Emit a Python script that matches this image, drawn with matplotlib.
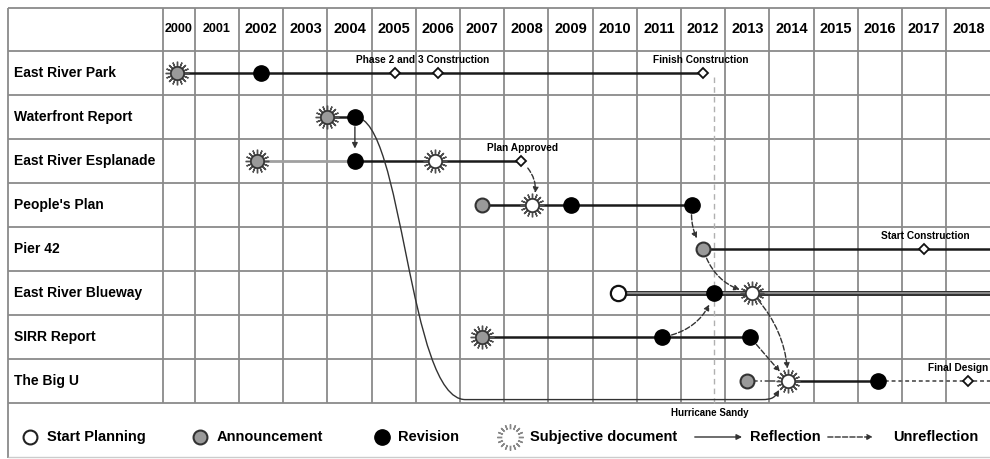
import matplotlib.pyplot as plt
from matplotlib.path import Path
from matplotlib.patches import FancyArrowPatch

plt.rcParams['font.family'] = ['Liberation Sans', 'DejaVu Sans']
plt.rcParams['font.weight'] = 'bold'

# ---- data ----
YEARS = list(range(2000, 2019))
PROJECTS = ['East River Park', 'Waterfront Report', 'East River Esplanade', "People's Plan",
            'Pier 42', 'East River Blueway', 'SIRR Report', 'The Big U']

# announcement that is also a subjective document (grey gear)
gray_gear_row = [0, 1, 2, 6]
gray_gear_year = [2000.1, 2003.5, 2001.9, 2007.0]
# subjective document (white gear)
white_gear_row = [2, 3, 5, 7]
white_gear_year = [2005.93, 2008.13, 2013.1, 2013.92]
# announcement (grey circle)
announce_row = [3, 4, 7]
announce_year = [2007.0, 2012.0, 2013.0]
# start planning (white circle)
planning_row = [5]
planning_year = [2010.07]
# revision (black circle)
revision_row = [0, 1, 2, 3, 3, 5, 6, 6, 7]
revision_year = [2002.0, 2004.12, 2004.12, 2009.0, 2011.75, 2012.25, 2011.07, 2013.06, 2015.95]
# milestones (small diamonds)
milestone_row = [0, 0, 0, 2, 4, 7]
milestone_year = [2005.03, 2006.0, 2012.0, 2007.88, 2017.0, 2018.0]

milestone_text = ['Phase 2 and 3 Construction', 'Finish Construction', 'Plan Approved',
                  'Start Construction', 'Final Design']
milestone_text_row = [0, 0, 2, 4, 7]
milestone_text_year = [2005.66, 2011.95, 2007.92, 2017.02, 2017.78]

# timeline segments
seg_row = [0, 1, 2, 2, 3, 4, 5, 6, 7, 7, 7]
seg_start = [2000.1, 2003.5, 2001.9, 2004.12, 2007.0, 2012.0, 2010.07, 2007.0, 2013.0, 2013.92, 2015.95]
seg_end = [2012.0, 2004.12, 2004.12, 2007.88, 2011.75, 2018.6, 2018.6, 2013.06, 2013.92, 2015.95, 2018.6]
seg_kind = ['dark', 'dark', 'light', 'dark', 'dark', 'dark', 'double', 'dark', 'dashdot', 'dark', 'dotted']

# reflection arrows between events
arr_from_row = [1, 2, 3, 4, 6, 6, 5]
arr_from_year = [2004.12, 2007.88, 2011.75, 2012.0, 2011.07, 2013.06, 2013.1]
arr_to_row = [2, 3, 4, 5, 5, 7, 7]
arr_to_year = [2004.12, 2008.13, 2012.0, 2013.1, 2012.25, 2013.92, 2013.92]
arr_dashed = [False, True, True, True, True, True, True]
arr_rad = [0.0, -0.35, 0.2, 0.3, 0.3, 0.0, -0.2]

SANDY_YEAR = 2012.25

# ---- figure ----
fig = plt.figure(figsize=(9.9, 4.59), dpi=100)
ax = fig.add_axes([0, 0, 1, 1])
ax.set_xlim(1996.09, 2018.49)
ax.set_ylim(8.77, -1.66)
ax.axis('off')

LEFT = 1996.27
LABEL_EDGE = 1999.78
TOP = -1.48
GRID = '#8a8a8a'

# grid
ax.hlines([TOP] + [r - 0.5 for r in range(len(PROJECTS) + 1)], LEFT, 2018.6,
          colors=GRID, lw=1.3, zorder=1)
ax.vlines([LABEL_EDGE] + [y + 0.5 for y in YEARS[:-1]], TOP, len(PROJECTS) - 0.5,
          colors=GRID, lw=1.3, zorder=1)
ax.vlines(LEFT, TOP, 8.75, colors=GRID, lw=1.3, zorder=1)
ax.hlines(8.72, LEFT, 2018.6, colors='#cccccc', lw=1.0, zorder=1)

for y in YEARS:
    x = y if y > 2000 else 2000.14
    ax.text(x, -1.0, str(y), ha='center', va='center', fontsize=10.5 if y > 2001 else 9)
for i, name in enumerate(PROJECTS):
    ax.text(1996.4, i, name, ha='left', va='center', fontsize=10)

# hurricane sandy marker line
ax.vlines(SANDY_YEAR, 0.1, len(PROJECTS) - 0.5, colors='#b0b0b0', lw=1.0,
          linestyles=(0, (4, 3)), zorder=1.5)
ax.text(SANDY_YEAR - 0.1, 7.73, 'Hurricane Sandy', ha='center', va='center', fontsize=7)

# timelines
for r, a, b, k in zip(seg_row, seg_start, seg_end, seg_kind):
    if k == 'dark':
        ax.plot([a, b], [r, r], color='#1a1a1a', lw=1.8, zorder=2)
    elif k == 'light':
        ax.plot([a, b], [r, r], color='#a0a0a0', lw=2.0, zorder=2)
    elif k == 'double':
        ax.plot([a, b], [r, r], color='#333333', lw=3.6, zorder=2)
        ax.plot([a, b], [r, r], color='#9a9a9a', lw=1.2, zorder=2.1)
    elif k == 'dashdot':
        ax.plot([a, b], [r, r], color='#555555', lw=1.2, ls='-.', zorder=2)
    else:
        ax.plot([a, b], [r, r], color='#666666', lw=1.4, ls=(0, (2, 1.5)), zorder=2)

# arrows
for fr, fy, tr, ty, dashed, rad in zip(arr_from_row, arr_from_year, arr_to_row,
                                       arr_to_year, arr_dashed, arr_rad):
    ax.annotate('', xy=(ty, tr), xytext=(fy, fr),
                arrowprops=dict(arrowstyle='-|>', color='#333333', lw=1.0,
                                ls='--' if dashed else '-', mutation_scale=8,
                                connectionstyle=f'arc3,rad={rad}',
                                shrinkA=7, shrinkB=9), zorder=3)

# long reflection from the Waterfront Report to The Big U (Hurricane Sandy)
x0, r0 = revision_year[1], revision_row[1]
x1, r1 = white_gear_year[3], white_gear_row[3]
low = r1 + 0.42
verts = [(x0, r0), (x0 + 1.1, r0), (x0 + 1.2, low), (x0 + 2.5, low),
         (x1 - 0.6, low), (x1 - 0.35, low), (x1 - 0.3, low - 0.05), (x1 - 0.2, r1 + 0.2)]
codes = [Path.MOVETO, Path.CURVE4, Path.CURVE4, Path.CURVE4,
         Path.LINETO, Path.CURVE4, Path.CURVE4, Path.CURVE4]
ax.add_patch(FancyArrowPatch(path=Path(verts, codes), arrowstyle='-|>', color='#333333',
                             lw=1.0, mutation_scale=8, zorder=3))


def gear(x, y, face, spoke='#505050', edge='#333333', size=17, **kw):
    ax.plot(x, y, ls='none', marker=(16, 2, 0), ms=size, mew=1.0, color=spoke, zorder=4, **kw)
    ax.plot(x, y, ls='none', marker='o', ms=size * 0.56, mfc=face, mec=edge, mew=1.2,
            zorder=5, **kw)


gear(gray_gear_year, gray_gear_row, '#9a9a9a')
gear(white_gear_year, white_gear_row, 'white')
ax.plot(announce_year, announce_row, ls='none', marker='o', ms=10, mfc='#9a9a9a',
        mec='#333333', mew=1.5, zorder=5)
ax.plot(planning_year, planning_row, ls='none', marker='o', ms=11, mfc='white',
        mec='#111111', mew=1.6, zorder=5)
ax.plot(revision_year, revision_row, ls='none', marker='o', ms=11, mfc='black',
        mec='black', zorder=5)
ax.plot(milestone_year, milestone_row, ls='none', marker='D', ms=5.5, mfc='white',
        mec='#111111', mew=1.3, zorder=5)

for txt, r, x in zip(milestone_text, milestone_text_row, milestone_text_year):
    ax.text(x, r - 0.3, txt, ha='center', va='center', fontsize=7.3)

# legend row
LY = 8.27
ax.plot(1996.77, LY, marker='o', ms=10, mfc='white', mec='#222222', mew=1.5)
ax.text(1997.15, LY, 'Start Planning', ha='left', va='center', fontsize=10.5)
ax.plot(2000.61, LY, marker='o', ms=10, mfc='#9a9a9a', mec='#333333', mew=1.5)
ax.text(2001.0, LY, 'Announcement', ha='left', va='center', fontsize=10.5)
ax.plot(2004.73, LY, marker='o', ms=11, mfc='black', mec='black')
ax.text(2005.09, LY, 'Revision', ha='left', va='center', fontsize=10.5)
gear(2007.63, LY, 'white', spoke='#888888', edge='white', size=19)
ax.text(2008.08, LY, 'Subjective document', ha='left', va='center', fontsize=10.5)
ax.annotate('', xy=(2012.88, LY), xytext=(2011.81, LY),
            arrowprops=dict(arrowstyle='-|>', color='#333333', lw=1.0, mutation_scale=8,
                            shrinkA=0, shrinkB=0))
ax.text(2013.06, LY, 'Reflection', ha='left', va='center', fontsize=10.5)
ax.annotate('', xy=(2015.84, LY), xytext=(2014.82, LY),
            arrowprops=dict(arrowstyle='-|>', color='#333333', lw=1.0, ls='--',
                            mutation_scale=8, shrinkA=0, shrinkB=0))
ax.text(2016.29, LY, 'Unreflection', ha='left', va='center', fontsize=10.5)

fig.savefig('out.png', dpi=100)
